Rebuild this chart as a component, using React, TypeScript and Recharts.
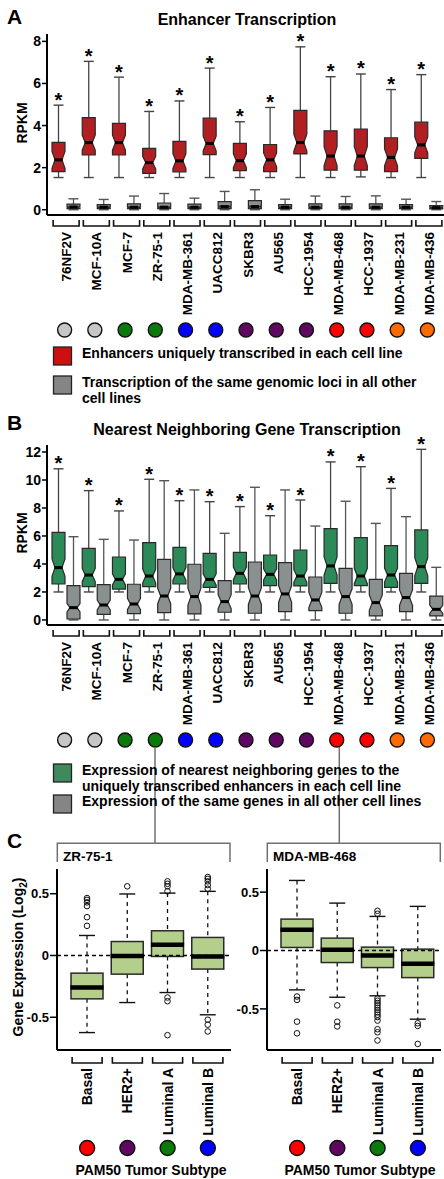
import React from "react";
import { ComposedChart, Bar, XAxis, YAxis, ReferenceLine } from "recharts";

const FONT = '"Liberation Sans", Arial, Helvetica, sans-serif';

// cell lines shown in panels A and B
const cellLines = ["76NF2V", "MCF-10A", "MCF-7", "ZR-75-1", "MDA-MB-361", "UACC812", "SKBR3", "AU565", "HCC-1954", "MDA-MB-468", "HCC-1937", "MDA-MB-231", "MDA-MB-436"];
const cellSubtypes = ["Normal", "Normal", "Luminal A", "Luminal A", "Luminal B", "Luminal B", "HER2+", "HER2+", "HER2+", "Basal", "Basal", "Claudin-low", "Claudin-low"];

// A: enhancers uniquely transcribed (RPKM)
const uniqMin = [1.53, 1.53, 1.53, 1.53, 1.53, 1.53, 1.53, 1.53, 1.53, 1.53, 1.56, 1.53, 1.53];
const uniqQ1 = [1.81, 2.6, 2.6, 1.73, 1.8, 2.62, 1.86, 1.81, 2.65, 1.88, 1.88, 1.81, 2.44];
const uniqMed = [2.37, 3.19, 3.19, 2.24, 2.32, 3.15, 2.33, 2.37, 3.19, 2.55, 2.55, 2.49, 3.08];
const uniqQ3 = [3.2, 4.38, 4.1, 2.92, 3.25, 4.35, 3.15, 3.1, 4.72, 3.75, 3.83, 3.42, 4.16];
const uniqMax = [4.97, 7.05, 6.3, 4.67, 5.17, 6.73, 4.18, 4.86, 7.74, 6.32, 6.45, 5.71, 6.42];
const uniqNotch = [0.4, 0.36, 0.36, 0.3, 0.35, 0.35, 0.33, 0.33, 0.4, 0.45, 0.45, 0.4, 0.38];

// A: same loci in all other lines
const lociMin = [0, 0, 0, 0, 0, 0, 0, 0, 0, 0, 0, 0, 0];
const lociQ1 = [0.05, 0.05, 0.05, 0.05, 0.05, 0.05, 0.05, 0.05, 0.05, 0.05, 0.05, 0.05, 0.04];
const lociMed = [0.13, 0.12, 0.12, 0.12, 0.12, 0.15, 0.15, 0.12, 0.12, 0.12, 0.12, 0.12, 0.1];
const lociQ3 = [0.27, 0.24, 0.28, 0.32, 0.27, 0.39, 0.43, 0.24, 0.28, 0.28, 0.28, 0.24, 0.2];
const lociMax = [0.52, 0.49, 0.65, 0.77, 0.55, 0.87, 0.95, 0.5, 0.65, 0.63, 0.66, 0.5, 0.39];
const lociNotch = [0.03, 0.03, 0.03, 0.03, 0.03, 0.03, 0.03, 0.03, 0.03, 0.03, 0.03, 0.03, 0.03];

// B: nearest neighbouring genes (RPKM)
const nearMin = [2, 2, 2, 2, 2, 2, 2, 2, 2, 2, 2, 2, 2];
const nearQ1 = [2.57, 2.38, 2.21, 2.38, 2.57, 2.33, 2.57, 2.45, 2.43, 2.62, 2.45, 2.33, 2.62];
const nearMed = [3.74, 3.21, 2.9, 3.14, 3.29, 2.9, 3.33, 3.26, 3.14, 3.86, 3.14, 3.21, 3.81];
const nearQ3 = [6.26, 5.12, 4.5, 5.52, 5.19, 4.76, 4.83, 4.64, 5.0, 6.52, 5.88, 5.31, 6.43];
const nearMax = [10.8, 9.24, 7.79, 10.05, 8.52, 8.45, 8.1, 7.45, 8.57, 11.29, 10.95, 9.4, 12.19];
const nearNotch = [0.62, 0.48, 0.4, 0.5, 0.45, 0.4, 0.45, 0.4, 0.45, 0.65, 0.55, 0.5, 0.65];

// B: same genes in all other lines
const sameMin = [0, 0, 0, 0, 0, 0, 0, 0, 0, 0, 0, 0, 0];
const sameQ1 = [0.07, 0.4, 0.45, 0.52, 0.43, 0.55, 0.48, 0.6, 0.67, 0.48, 0.29, 0.6, 0.29];
const sameMed = [0.88, 1.07, 1.14, 1.71, 1.67, 1.31, 1.71, 1.86, 1.43, 1.67, 1.24, 1.6, 0.76];
const sameQ3 = [2.45, 2.52, 2.55, 4.33, 3.98, 2.81, 4.14, 4.1, 3.07, 3.69, 2.9, 3.33, 1.71];
const sameMax = [5.95, 5.76, 5.71, 9.95, 9.29, 6.19, 9.48, 9.29, 6.71, 8.48, 6.9, 7.38, 3.76];
const sameNotch = [0.3, 0.35, 0.4, 0.55, 0.6, 0.5, 0.6, 0.6, 0.55, 0.55, 0.55, 0.55, 0.3];

// C: PAM50 tumour subtypes (log2 expression)
const pam50 = ["Basal", "HER2+", "Luminal A", "Luminal B"];

const zrMin = [-0.624, -0.381, -0.3, -0.48];
const zrQ1 = [-0.351, -0.151, -0.008, -0.11];
const zrMed = [-0.259, -0.005, 0.087, -0.008];
const zrQ3 = [-0.143, 0.113, 0.2, 0.146];
const zrMax = [0.162, 0.498, 0.505, 0.519];
const zrOutliers = [
  [0.24, 0.31, 0.4, 0.43, 0.45, 0.465],
  [0.56],
  [0.52, 0.56, 0.58, 0.6, -0.34, -0.37, -0.645],
  [0.54, 0.57, 0.6, 0.62, 0.635, -0.52, -0.56, -0.615],
];

const mdaMin = [-0.337, -0.4, -0.388, -0.588];
const mdaQ1 = [0.026, -0.103, -0.146, -0.232];
const mdaMed = [0.178, 0.006, -0.043, -0.114];
const mdaQ3 = [0.269, 0.106, 0.029, 0.012];
const mdaMax = [0.6, 0.406, 0.292, 0.378];
const mdaOutliers = [
  [-0.394, -0.423, -0.609, -0.709],
  [-0.47, -0.61, -0.65],
  [0.315, 0.34, -0.41, -0.43, -0.45, -0.47, -0.49, -0.51, -0.53, -0.55, -0.57, -0.6, -0.674, -0.7, -0.77],
  [-0.623, -0.646, -0.8],
];

const legendA = [
  ["Enhancers uniquely transcribed in each cell line"],
  ["Transcription of the same genomic loci in all other", "cell lines"],
];
const legendB = [
  ["Expression of nearest neighboring genes to the", "uniquely transcribed enhancers in each cell line"],
  ["Expression of the same genes in all other cell lines"],
];

const subtypeColor: Record<string, string> = {
  Normal: "#c6c6c6",
  "Luminal A": "#0b7a0b",
  "Luminal B": "#0000ff",
  "HER2+": "#5e0860",
  Basal: "#ff0000",
  "Claudin-low": "#ff6a00",
};

const pick = (mn: number[], q1: number[], md: number[], q3: number[], mx: number[], i: number, extra: any = {}) => ({
  min: mn[i], q1: q1[i], med: md[i], q3: q3[i], max: mx[i], ...extra,
});

const enhancerRows = cellLines.map((name, i) => ({
  name,
  main: pick(uniqMin, uniqQ1, uniqMed, uniqQ3, uniqMax, i, { notch: uniqNotch[i] }),
  other: pick(lociMin, lociQ1, lociMed, lociQ3, lociMax, i, { notch: lociNotch[i] }),
}));

const geneRows = cellLines.map((name, i) => ({
  name,
  main: pick(nearMin, nearQ1, nearMed, nearQ3, nearMax, i, { notch: nearNotch[i] }),
  other: pick(sameMin, sameQ1, sameMed, sameQ3, sameMax, i, { notch: sameNotch[i] }),
}));

const zrRows = pam50.map((name, i) => ({ name, main: pick(zrMin, zrQ1, zrMed, zrQ3, zrMax, i, { outliers: zrOutliers[i] }) }));
const mdaRows = pam50.map((name, i) => ({ name, main: pick(mdaMin, mdaQ1, mdaMed, mdaQ3, mdaMax, i, { outliers: mdaOutliers[i] }) }));

type Look = { fill: string; stroke: string; whisker: string; cap: number; inset: number; medianW: number; dashed: boolean; star: boolean };

const redLook: Look = { fill: "#b11f22", stroke: "#2a2a2a", whisker: "#444", cap: 10, inset: 3, medianW: 3, dashed: false, star: true };
const greenLook: Look = { ...redLook, fill: "#2b8a57" };
const grayLook: Look = { ...redLook, fill: "#8a8f8f", whisker: "#555", star: false };
const paleLook: Look = { fill: "#b3cf8b", stroke: "#2a2a2a", whisker: "#111", cap: 16, inset: 0, medianW: 4.5, dashed: true, star: false };

function BoxShape(props: any) {
  const { x, y, width, height, payload, series, look } = props;
  const s = payload && payload[series];
  if (!s) return null;
  const top = Math.min(y, y + height);
  const bot = Math.max(y, y + height);
  const py = (v: number) => top + ((s.max - v) / (s.max - s.min)) * (bot - top);
  const cx = x + width / 2;
  const l = x;
  const r = x + width;
  const y3 = py(s.q3);
  const y1 = py(s.q1);
  const ym = py(s.med);
  const yT = py(s.max);
  const yB = py(s.min);
  const ins = look.inset;
  const dash = look.dashed ? "4 4" : undefined;
  let body;
  if (ins > 0) {
    const nt = Math.max(py(s.med + s.notch), y3);
    const nb = Math.min(py(s.med - s.notch), y1);
    const pts = [
      [l, y3], [r, y3], [r, nt], [r - ins, ym], [r, nb], [r, y1],
      [l, y1], [l, nb], [l + ins, ym], [l, nt],
    ].map((p) => p.join(",")).join(" ");
    body = <polygon points={pts} fill={look.fill} stroke={look.stroke} strokeWidth={1.2} />;
  } else {
    body = <rect x={l} y={y3} width={width} height={y1 - y3} fill={look.fill} stroke={look.stroke} strokeWidth={1.5} />;
  }
  return (
    <g>
      <line x1={cx} x2={cx} y1={yT} y2={y3} stroke={look.whisker} strokeWidth={1.3} strokeDasharray={dash} />
      <line x1={cx} x2={cx} y1={y1} y2={yB} stroke={look.whisker} strokeWidth={1.3} strokeDasharray={dash} />
      <line x1={cx - look.cap / 2} x2={cx + look.cap / 2} y1={yT} y2={yT} stroke={look.whisker} strokeWidth={1.4} />
      <line x1={cx - look.cap / 2} x2={cx + look.cap / 2} y1={yB} y2={yB} stroke={look.whisker} strokeWidth={1.4} />
      {body}
      <line x1={l + ins - 0.6} x2={r - ins + 0.6} y1={ym} y2={ym} stroke="#000" strokeWidth={look.medianW} />
      {(s.outliers || []).map((v: number, k: number) => (
        <circle key={k} cx={cx} cy={py(v)} r={2.8} fill="none" stroke="#111" strokeWidth={1} />
      ))}
      {look.star && (
        <text x={cx} y={yT + 1.5} textAnchor="middle" fontSize={20} fontWeight={700} fill="#000">*</text>
      )}
    </g>
  );
}

function CellTick(props: any) {
  const { x, y, payload } = props;
  const i = cellLines.indexOf(payload.value);
  return (
    <g>
      <path d={`M${x - 13},${y + 5}V${y + 11}H${x + 13}V${y + 5}`} fill="none" stroke="#111" strokeWidth={1.6} />
      <text transform={`translate(${x + 5},${y + 17}) rotate(-90)`} textAnchor="end" fontSize={13.5} fontWeight={700} fill="#000">
        {payload.value}
      </text>
      <circle cx={x - 1.5} cy={y + 115} r={7} fill={subtypeColor[cellSubtypes[i]]} stroke="#111" strokeWidth={1.4} />
    </g>
  );
}

function SubtypeTick(props: any) {
  const { x, y, payload } = props;
  return (
    <g>
      <path d={`M${x - 15},${y + 7}V${y + 13}H${x + 15}V${y + 7}`} fill="none" stroke="#111" strokeWidth={1.6} />
      <text transform={`translate(${x + 5},${y + 18}) rotate(-90)`} textAnchor="end" fontSize={14} fontWeight={700} fill="#000">
        {payload.value}
      </text>
      <circle cx={x} cy={y + 98} r={7.5} fill={subtypeColor[payload.value]} stroke="#111" strokeWidth={1.4} />
    </g>
  );
}

const axisLine = { stroke: "#000", strokeWidth: 2 };
const yTick = { fontSize: 14, fontWeight: 700, fill: "#000" };

function PairChart({ rows, height, xHeight, domain, ticks, mainLook }: any) {
  return (
    <ComposedChart width={450} height={height} data={rows} margin={{ top: 34, right: 0, bottom: 0, left: 0 }} barGap={2}>
      <XAxis xAxisId="top" orientation="top" dataKey="name" height={0} tick={false} tickLine={false} axisLine={axisLine} />
      <XAxis dataKey="name" height={xHeight} interval={0} tickSize={0} tickMargin={0} tickLine={false} axisLine={axisLine}
        padding={{ left: 4, right: 6 }} tick={(p: any) => <CellTick {...p} />} />
      <YAxis width={47} domain={domain} ticks={ticks} tick={yTick} tickSize={5} tickMargin={1}
        tickLine={{ stroke: "#000", strokeWidth: 1.5 }} axisLine={axisLine} />
      <Bar dataKey={(r: any) => [r.main.min, r.main.max]} barSize={13} isAnimationActive={false}
        shape={(p: any) => <BoxShape {...p} series="main" look={mainLook} />} />
      <Bar dataKey={(r: any) => [r.other.min, r.other.max]} barSize={13} isAnimationActive={false}
        shape={(p: any) => <BoxShape {...p} series="other" look={grayLook} />} />
    </ComposedChart>
  );
}

function SubtypeChart({ rows, domain }: any) {
  return (
    <ComposedChart width={231} height={322} data={rows} margin={{ top: 34, right: 0, bottom: 0, left: 0 }}>
      <XAxis xAxisId="top" orientation="top" dataKey="name" height={0} tick={false} tickLine={false} axisLine={axisLine} />
      <XAxis dataKey="name" height={107} interval={0} tickSize={0} tickMargin={0} tickLine={false} axisLine={axisLine}
        padding={{ left: 10, right: 3 }} tick={(p: any) => <SubtypeTick {...p} />} />
      <YAxis width={57} domain={domain} ticks={[-0.5, 0, 0.5]} tick={{ ...yTick, fontSize: 13 }} tickSize={7} tickMargin={1}
        tickLine={{ stroke: "#000", strokeWidth: 1.5 }} axisLine={axisLine} />
      <YAxis yAxisId="frame" orientation="right" width={0} tick={false} tickLine={false} axisLine={axisLine} />
      <Bar dataKey={(r: any) => [r.main.min, r.main.max]} barSize={32} isAnimationActive={false}
        shape={(p: any) => <BoxShape {...p} series="main" look={paleLook} />} />
      <ReferenceLine y={0} stroke="#000" strokeWidth={1.3} strokeDasharray="4 3" />
    </ComposedChart>
  );
}

function Legend({ entries, colors, tops }: any) {
  return (
    <g>
      {entries.map((lines: string[], i: number) => (
        <g key={i}>
          <rect x={53.5} y={tops[i]} width={18} height={18} fill={colors[i]} stroke="#222" strokeWidth={1.3} />
          {lines.map((t, j) => (
            <text key={j} x={82} y={tops[i] + 11.3 + j * 15.6} fontSize={14}>{t}</text>
          ))}
        </g>
      ))}
    </g>
  );
}

function Overlay() {
  const conn = { fill: "none", stroke: "#707070", strokeWidth: 1.5 };
  return (
    <svg width={444} height={1179} style={{ position: "absolute", left: 0, top: 0, pointerEvents: "none" }}
      fontFamily={FONT} fontWeight={700} fill="#000">
      <text x={7} y={23.5} fontSize={21}>A</text>
      <text x={247} y={25} fontSize={16} textAnchor="middle">Enhancer Transcription</text>
      <text transform="translate(27,123) rotate(-90)" fontSize={14} textAnchor="middle">RPKM</text>
      <Legend entries={legendA} colors={["#cc1010", "#858585"]} tops={[347, 376]} />

      <text x={7} y={430} fontSize={21}>B</text>
      <text x={247} y={435} fontSize={16} textAnchor="middle">Nearest Neighboring Gene Transcription</text>
      <text transform="translate(27,533) rotate(-90)" fontSize={14} textAnchor="middle">RPKM</text>

      <path d="M155,747V843.3M57.3,862V843.3H230V862" {...conn} />
      <path d="M339.3,747V843.3M267.3,862V843.3H440.3V862" {...conn} />
      <Legend entries={legendB} colors={["#3e8a5c", "#858585"]} tops={[764, 795]} />

      <text x={7} y={848} fontSize={21}>C</text>
      <text x={63} y={861} fontSize={13.5}>ZR-75-1</text>
      <text x={273} y={861} fontSize={13.5}>MDA-MB-468</text>
      <text transform="translate(23,957) rotate(-90)" fontSize={14} textAnchor="middle">
        Gene Expression (Log<tspan fontSize={10} dy={4}>2</tspan><tspan dy={-4}>)</tspan>
      </text>
      <text x={151} y={1175} fontSize={14} textAnchor="middle">PAM50 Tumor Subtype</text>
      <text x={360} y={1175} fontSize={14} textAnchor="middle">PAM50 Tumor Subtype</text>
    </svg>
  );
}

export default function App() {
  return (
    <div style={{ position: "absolute", left: 0, top: 0, width: 444, height: 1179, overflow: "hidden", background: "#fff", fontFamily: FONT }}>
      <div style={{ position: "absolute", left: 0, top: 0 }}>
        <PairChart rows={enhancerRows} height={345} xHeight={130} domain={[-0.25, 8.35]} ticks={[0, 2, 4, 6, 8]} mainLook={redLook} />
      </div>
      <div style={{ position: "absolute", left: 0, top: 411 }}>
        <PairChart rows={geneRows} height={340} xHeight={126} domain={[-0.36, 12.5]} ticks={[0, 2, 4, 6, 8, 10, 12]} mainLook={greenLook} />
      </div>
      <div style={{ position: "absolute", left: 0, top: 835 }}>
        <SubtypeChart rows={zrRows} domain={[-0.765, 0.7]} />
      </div>
      <div style={{ position: "absolute", left: 210, top: 835 }}>
        <SubtypeChart rows={mdaRows} domain={[-0.852, 0.698]} />
      </div>
      <Overlay />
    </div>
  );
}
